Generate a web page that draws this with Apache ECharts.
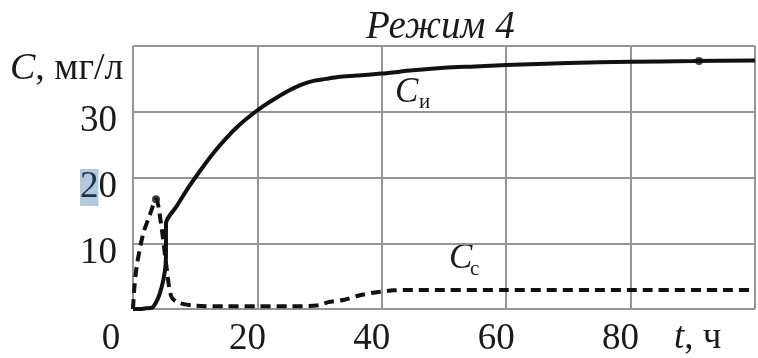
<!DOCTYPE html>
<html>
<head>
<meta charset="utf-8">
<script src="https://cdn.jsdelivr.net/npm/echarts@6/dist/echarts.min.js"></script>
<style>
  html, body { margin: 0; padding: 0; background: #fff; }
  #chart { width: 758px; height: 358px; }
</style>
</head>
<body>
<div id="chart"></div>
<script>
// Concentration in the bulk (C_и, solid) and in the layer (C_с, dashed), mode 4
const tIs = [0, 1, 2, 3.2, 4.6, 5.3, 5.3, 7, 9, 11, 13, 15, 17, 19, 21, 23, 25, 27, 29, 31, 33, 36, 40, 45, 50, 55, 60, 70, 80, 90, 100];
const cIs = [0, 0, 0.1, 0.3, 3.3, 8, 13, 15.6, 18.6, 21.3, 23.8, 26.0, 27.9, 29.5, 30.9, 32.1, 33.2, 34.1, 34.7, 35.0, 35.3, 35.5, 35.8, 36.3, 36.7, 36.9, 37.1, 37.4, 37.6, 37.7, 37.8];

const tCs = [0, 0.2, 0.6, 1.6, 2.7, 3.7, 4.6, 5.4, 6.2, 7.5, 10, 15, 20, 25, 30, 31.4, 34, 36.5, 39.5, 42, 45, 50, 60, 80, 100];
const cCs = [0, 3, 6.5, 11.3, 14.3, 16.7, 12.3, 6.3, 1.8, 0.9, 0.5, 0.4, 0.4, 0.4, 0.6, 1.05, 1.4, 2.1, 2.6, 2.85, 2.9, 2.9, 2.9, 2.9, 2.9];

// highlighted points on the curves
const dotT = [3.7, 91];
const dotC = [16.7, 37.7];

const xTicks = [0, 20, 40, 60, 80];
const yTicks = [10, 20, 30];

const serif = 'Liberation Serif';
const ink = '#1a1a1a';
const gridGray = '#959595';

const pairs = (xs, ys) => xs.map((x, i) => [x, ys[i]]);

const chart = echarts.init(document.getElementById('chart'), null, { renderer: 'canvas' });

chart.setOption({
  animation: false,
  backgroundColor: '#ffffff',
  title: {
    text: 'Режим 4',
    left: 361,
    top: 3,
    textStyle: { fontFamily: serif, fontStyle: 'italic', fontWeight: 'normal', fontSize: 39, color: ink }
  },
  grid: { left: 133, right: -3, top: 46, bottom: 46, containLabel: false },
  xAxis: {
    type: 'value',
    min: 0, max: 100, interval: 20,
    axisLine: { show: false },
    axisTick: { show: false },
    splitLine: { show: true, lineStyle: { color: gridGray, width: 2 } },
    axisLabel: {
      margin: 12,
      fontFamily: serif, fontSize: 37, color: ink,
      padding: [0, 20, 0, 0],
      formatter: v => {
        if (!xTicks.includes(v)) return '';
        return v === 0 ? '{z|0}' : String(v);
      },
      rich: {
        z: { fontFamily: serif, fontSize: 37, color: ink, padding: [0, 24, 0, 0] }
      }
    }
  },
  yAxis: {
    type: 'value',
    min: 0, max: 40, interval: 10,
    axisLine: { show: false },
    axisTick: { show: false },
    splitLine: { show: true, lineStyle: { color: gridGray, width: 2 } },
    axisLabel: {
      margin: 16,
      fontFamily: serif, fontSize: 37, color: ink,
      padding: [20, 0, 0, 0],
      formatter: v => {
        if (!yTicks.includes(v)) return '';
        if (v === 20) return '{h|2}{n|0}';
        return String(v);
      },
      rich: {
        h: { fontFamily: serif, fontSize: 37, color: '#1d2f4a', backgroundColor: '#b3cade' },
        n: { fontFamily: serif, fontSize: 37, color: ink }
      }
    }
  },
  series: [
    {
      name: 'C_и',
      type: 'line',
      data: pairs(tIs, cIs),
      showSymbol: false,
      smooth: 0.3,
      lineStyle: { color: '#111', width: 4 },
      z: 3
    },
    {
      name: 'C_с',
      type: 'line',
      data: pairs(tCs, cCs),
      showSymbol: false,
      smooth: 0.3,
      lineStyle: { color: '#111', width: 4, type: [10, 6] },
      z: 4
    },
    {
      name: 'points',
      type: 'scatter',
      data: pairs(dotT, dotC),
      symbolSize: 8,
      itemStyle: { color: '#111' },
      z: 5
    }
  ],
  graphic: [
    {
      type: 'text', left: 10, top: 50,
      style: {
        text: '{i|C}{r|, мг/л}',
        rich: {
          i: { fontFamily: serif, fontStyle: 'italic', fontSize: 38 },
          r: { fontFamily: serif, fontSize: 38 }
        },
        fill: ink
      }
    },
    {
      type: 'text', left: 674, top: 320,
      style: {
        text: '{i|t}{r|, ч}',
        rich: {
          i: { fontFamily: serif, fontStyle: 'italic', fontSize: 37 },
          r: { fontFamily: serif, fontSize: 37 }
        },
        fill: ink
      }
    },
    {
      type: 'text', left: 395, top: 75,
      style: { text: 'C', fontFamily: serif, fontStyle: 'italic', fontSize: 35, fill: ink }
    },
    {
      type: 'text', left: 419, top: 92,
      style: { text: 'и', fontFamily: serif, fontSize: 21, fill: ink }
    },
    {
      type: 'text', left: 449, top: 241,
      style: { text: 'C', fontFamily: serif, fontStyle: 'italic', fontSize: 35, fill: ink }
    },
    {
      type: 'text', left: 470, top: 259,
      style: { text: 'с', fontFamily: serif, fontSize: 21, fill: ink }
    }
  ]
});
</script>
</body>
</html>
